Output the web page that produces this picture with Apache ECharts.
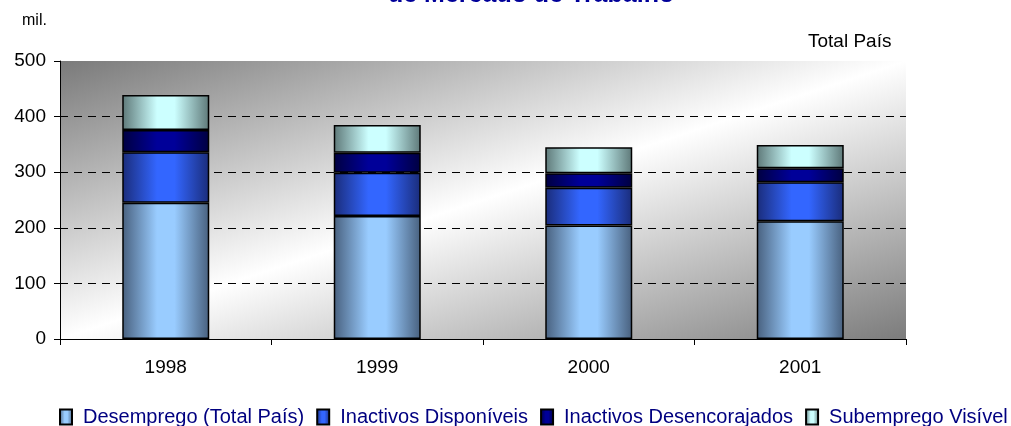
<!DOCTYPE html>
<html>
<head>
<meta charset="utf-8">
<script src="https://cdn.jsdelivr.net/npm/echarts@6/dist/echarts.min.js"></script>
<style>
  html, body { margin: 0; padding: 0; background: #fff; }
  #chart { width: 1011px; height: 426px; }
</style>
</head>
<body>
<div id="chart"></div>
<script>
// dados (milhares)
let anos = ['1998', '1999', '2000', '2001']
let desemprego = [245, 221, 204, 212]
let inactivosDisp = [91, 78, 68, 70]
let desencorajados = [40, 36, 26, 25]
let subemprego = [63, 50, 47, 42]
let nomes = ['Desemprego (Total País)', 'Inactivos Disponíveis', 'Inactivos Desencorajados', 'Subemprego Visível']
let yTicks = [0, 100, 200, 300, 400, 500]

let fonte = 'Liberation Sans, Arial, sans-serif'

// gradiente horizontal tipo cilindro
let cilindro = function(borda, meio) {
    return new echarts.graphic.LinearGradient(0, 0, 1, 0, [
        { offset: 0, color: borda },
        { offset: 0.4, color: meio },
        { offset: 0.6, color: meio },
        { offset: 1, color: borda }
    ])
}

let cores = [
    cilindro('#48607e', '#99ccff'),
    cilindro('#1a2c7a', '#3366ff'),
    cilindro('#000040', '#000099'),
    cilindro('#5e7878', '#ccffff')
]

let dados = [desemprego, inactivosDisp, desencorajados, subemprego]

let series = dados.map(function(d, i) {
    return {
        name: nomes[i],
        type: 'bar',
        stack: 'total',
        barWidth: 87,
        data: d,
        itemStyle: { color: cores[i], borderColor: '#000', borderWidth: 1.5 }
    }
})

let options = {
    animation: false,
    textStyle: { fontFamily: fonte },
    graphic: [
        { type: 'text', left: 388, top: -17, style: { text: 'de Mercado de Trabalho', fontSize: 25, fontWeight: 'bold', fill: '#000099', fontFamily: fonte } },
        { type: 'text', left: 22, top: 13, style: { text: 'mil.', fontSize: 16, fill: '#000', fontFamily: fonte } },
        { type: 'text', left: 808, top: 32, style: { text: 'Total País', fontSize: 19, fill: '#000', fontFamily: fonte } }
    ],
    legend: {
        left: 54,
        top: 402,
        width: 960,
        itemWidth: 12,
        itemHeight: 15,
        itemGap: 12,
        icon: 'rect',
        textStyle: { color: '#000080', fontSize: 20, fontFamily: fonte, padding: [0, 0, 0, 6] },
        data: nomes
    },
    grid: {
        left: 60, right: 105, top: 61, bottom: 87,
        show: true,
        borderWidth: 0,
        // isolinhas na diagonal do rectangulo
        backgroundColor: new echarts.graphic.LinearGradient(0, 0, 0.195, 1.805, [
            { offset: 0, color: '#7a7a7a' },
            { offset: 0.5, color: '#ffffff' },
            { offset: 1, color: '#7c7c7c' }
        ])
    },
    xAxis: {
        type: 'category',
        data: anos,
        axisLine: { lineStyle: { color: '#000', width: 1 } },
        axisTick: { show: true, length: 6, lineStyle: { color: '#000' } },
        axisLabel: { color: '#000', fontSize: 19, margin: 19, fontFamily: fonte }
    },
    yAxis: {
        type: 'value',
        min: yTicks[0],
        max: yTicks[yTicks.length - 1],
        interval: 100,
        axisLine: { show: true, lineStyle: { color: '#000', width: 1 } },
        axisTick: { show: true, length: 6, lineStyle: { color: '#000' } },
        axisLabel: { color: '#000', fontSize: 19, margin: 14, fontFamily: fonte },
        splitLine: { show: true, showMinLine: false, showMaxLine: false, lineStyle: { color: '#000', type: [8, 6], width: 1 } }
    },
    series: series
}

let chart = echarts.init(document.getElementById('chart'))
chart.setOption(options)
</script>
</body>
</html>
